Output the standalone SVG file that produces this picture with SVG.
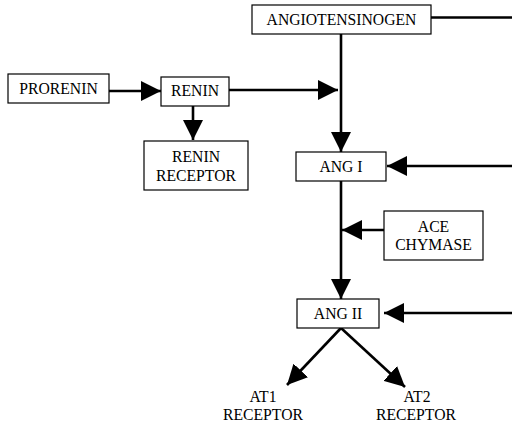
<svg xmlns="http://www.w3.org/2000/svg" width="512" height="427" viewBox="0 0 512 427">
<style>
.box{fill:#fff;stroke:#000;stroke-width:1.2}
.t{font-family:"Liberation Serif","Times New Roman",serif;font-size:15.7px;fill:#000;text-anchor:middle}
.c{stroke:#000;stroke-width:2.6;fill:none}
</style>
<defs>
<marker id="ah" markerUnits="userSpaceOnUse" markerWidth="20" markerHeight="20" viewBox="0 0 18 18" refX="18" refY="9" orient="auto">
<path d="M0,0 L18,9 L0,18 Z" fill="#000"/>
</marker>
</defs>
<g id="connectors">
<line class="c" x1="431" y1="17.5" x2="512" y2="17.5"/>
<line class="c" x1="341" y1="34" x2="341" y2="152" marker-end="url(#ah)"/>
<line class="c" x1="109" y1="91" x2="161" y2="91" marker-end="url(#ah)"/>
<line class="c" x1="229" y1="90" x2="338" y2="90" marker-end="url(#ah)"/>
<line class="c" x1="193" y1="106" x2="193" y2="140" marker-end="url(#ah)"/>
<line class="c" x1="512" y1="166" x2="387" y2="166" marker-end="url(#ah)"/>
<line class="c" x1="341" y1="181" x2="341" y2="299" marker-end="url(#ah)"/>
<line class="c" x1="384" y1="230" x2="342" y2="230" marker-end="url(#ah)"/>
<line class="c" x1="512" y1="313" x2="384" y2="313" marker-end="url(#ah)"/>
<line class="c" x1="341" y1="328" x2="287" y2="385" marker-end="url(#ah)"/>
<line class="c" x1="341" y1="328" x2="405" y2="387" marker-end="url(#ah)"/>
</g>
<g id="angiotensinogen"><rect class="box" x="252" y="5" width="179" height="29"/><text class="t" x="341.5" y="25">ANGIOTENSINOGEN</text></g>
<g id="prorenin"><rect class="box" x="8" y="74" width="101" height="29"/><text class="t" x="58.5" y="93.5">PRORENIN</text></g>
<g id="renin"><rect class="box" x="161" y="77" width="68" height="29"/><text class="t" x="195" y="96">RENIN</text></g>
<g id="renin-receptor"><rect class="box" x="144" y="141" width="104" height="49"/><text class="t" x="196" y="161.5">RENIN</text><text class="t" x="196" y="180.5">RECEPTOR</text></g>
<g id="ang1"><rect class="box" x="296" y="152" width="90" height="29"/><text class="t" x="341" y="171.5">ANG I</text></g>
<g id="ace-chymase"><rect class="box" x="384" y="211" width="99" height="49"/><text class="t" x="433.5" y="231.5">ACE</text><text class="t" x="433.5" y="250">CHYMASE</text></g>
<g id="ang2"><rect class="box" x="297" y="299" width="82" height="29"/><text class="t" x="338" y="318.5">ANG II</text></g>
<g id="at1"><text class="t" x="263" y="401.5">AT1</text><text class="t" x="263" y="420">RECEPTOR</text></g>
<g id="at2"><text class="t" x="417" y="401.5">AT2</text><text class="t" x="416" y="420">RECEPTOR</text></g>
</svg>
